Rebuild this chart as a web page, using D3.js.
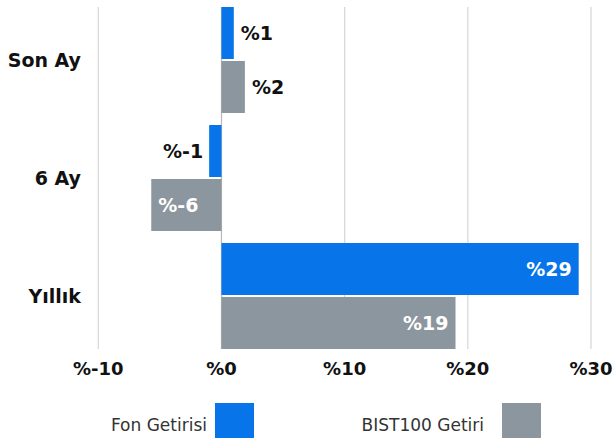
<!DOCTYPE html>
<html>
<head>
<meta charset="utf-8">
<script src="https://cdn.jsdelivr.net/npm/d3@7"></script>
<style>
  body { margin: 0; background: #fff; }
  svg { display: block; font-family: "DejaVu Sans", sans-serif; }
</style>
</head>
<body>
<div id="chart"></div>
<script>
// chart data
const categories = ["Son Ay", "6 Ay", "Yıllık"];
const seriesNames = ["Fon Getirisi", "BIST100 Getiri"];
const fonValues = [1.0, -1.0, 29.0];
const bistValues = [1.9, -5.7, 19.0];
const tickValues = [-10, 0, 10, 20, 30];
const colors = ["#0774e9", "#8c969e"];

const width = 614, height = 438;

const svg = d3.select("#chart").append("svg")
    .attr("width", width)
    .attr("height", height);

// scales
const x = d3.scaleLinear()
    .domain([-10, 30])
    .range([98.3, 591]);

const y = d3.scaleBand()
    .domain(categories)
    .range([7, 349])
    .paddingInner(0.1017)
    .paddingOuter(0);

const ySub = d3.scaleBand()
    .domain(seriesNames)
    .range([0, y.bandwidth()])
    .paddingInner(0.037);

// grid lines
svg.append("g")
    .selectAll("line")
    .data(tickValues)
    .enter()
    .append("line")
    .attr("x1", d => x(d))
    .attr("x2", d => x(d))
    .attr("y1", 7)
    .attr("y2", 349)
    .attr("stroke", d => d === 0 ? "#b8b8b8" : "#d6d6d6")
    .attr("stroke-width", 1.2);

// x tick labels
svg.append("g")
    .selectAll("text")
    .data(tickValues)
    .enter()
    .append("text")
    .attr("x", d => x(d))
    .attr("y", 375)
    .attr("text-anchor", "middle")
    .style("font-size", "18px")
    .style("font-weight", "bold")
    .style("fill", "#111")
    .text(d => "%" + d);

// category labels
svg.append("g")
    .selectAll("text")
    .data(categories)
    .enter()
    .append("text")
    .attr("x", 81)
    .attr("y", d => y(d) + y.bandwidth() / 2 + 7)
    .attr("text-anchor", "end")
    .style("font-size", "19px")
    .style("font-weight", "bold")
    .style("fill", "#111")
    .text(d => d);

// bars
const rows = [];
categories.forEach((c, i) => {
    rows.push({cat: c, series: seriesNames[0], value: fonValues[i], color: colors[0]});
    rows.push({cat: c, series: seriesNames[1], value: bistValues[i], color: colors[1]});
});

svg.append("g")
    .selectAll("rect")
    .data(rows)
    .enter()
    .append("rect")
    .attr("x", d => Math.min(x(0), x(d.value)))
    .attr("y", d => y(d.cat) + ySub(d.series))
    .attr("width", d => Math.abs(x(d.value) - x(0)))
    .attr("height", ySub.bandwidth())
    .attr("fill", d => d.color);

// value labels: inside for long bars, outside otherwise
svg.append("g")
    .selectAll("text")
    .data(rows)
    .enter()
    .append("text")
    .each(function(d) {
        const w = Math.abs(x(d.value) - x(0));
        const inside = w > 60;
        const pos = d.value >= 0;
        let tx, anchor;
        if (inside) {
            tx = pos ? x(d.value) - 7 : x(d.value) + 7;
            anchor = pos ? "end" : "start";
        } else {
            tx = pos ? x(d.value) + 7 : x(d.value) - 6;
            anchor = pos ? "start" : "end";
        }
        d3.select(this)
            .attr("x", tx)
            .attr("y", y(d.cat) + ySub(d.series) + ySub.bandwidth() / 2 + 7)
            .attr("text-anchor", anchor)
            .style("fill", inside ? "#fff" : "#111");
    })
    .style("font-size", "19px")
    .style("font-weight", "bold")
    .text(d => "%" + Math.round(d.value));

// legend
const legendItems = [
    {name: seriesNames[0], color: colors[0], textEnd: 207, boxX: 215},
    {name: seriesNames[1], color: colors[1], textEnd: 484, boxX: 502}
];

const legend = svg.append("g");
legend.selectAll("rect")
    .data(legendItems)
    .enter()
    .append("rect")
    .attr("x", d => d.boxX)
    .attr("y", 403)
    .attr("width", 39)
    .attr("height", 36)
    .attr("fill", d => d.color);

legend.selectAll("text")
    .data(legendItems)
    .enter()
    .append("text")
    .attr("x", d => d.textEnd)
    .attr("y", 431)
    .attr("text-anchor", "end")
    .style("font-size", "17px")
    .style("fill", "#333")
    .text(d => d.name);
</script>
</body>
</html>
